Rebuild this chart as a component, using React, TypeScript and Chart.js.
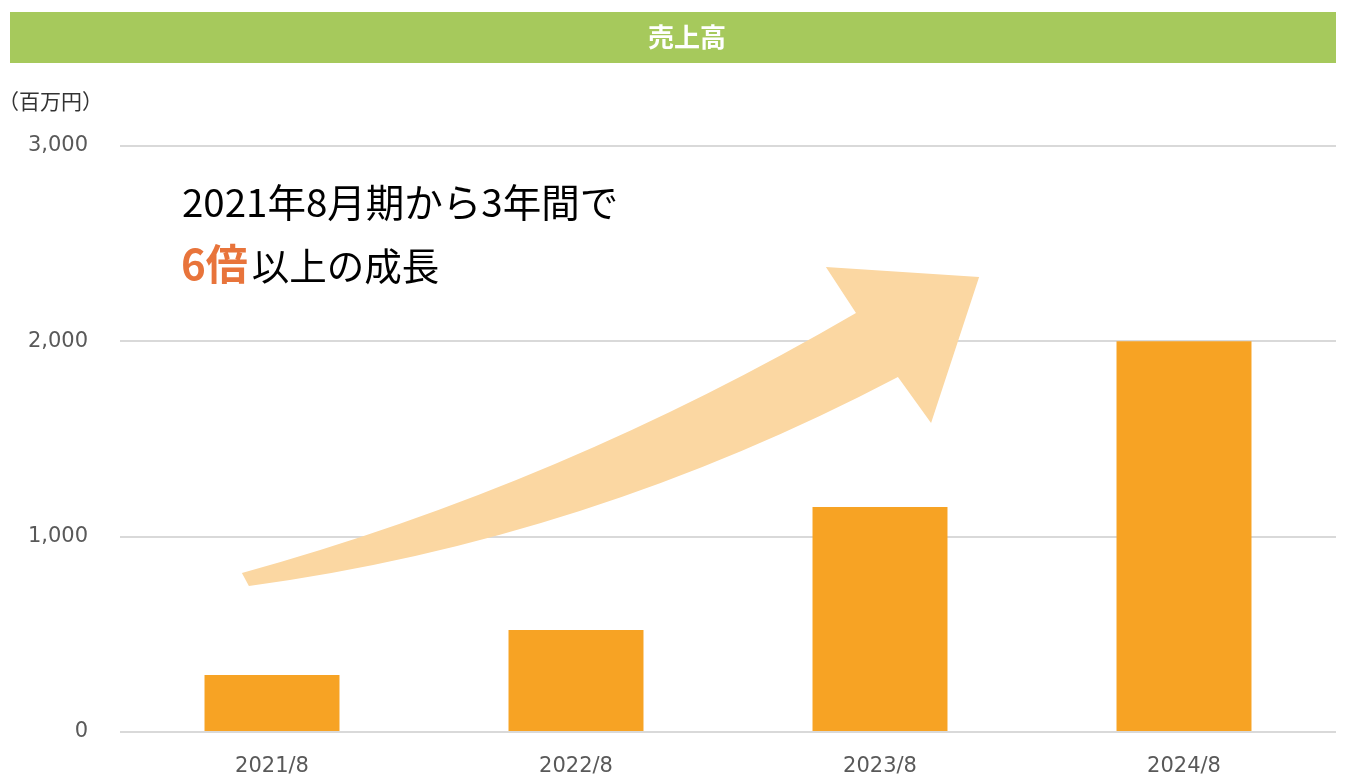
import React, { useEffect, useRef } from "react";
import { Chart, registerables } from "chart.js";

Chart.register(...registerables);

// ---- data ----
const categories = ["2021/8", "2022/8", "2023/8", "2024/8"];
const salesValues = [292, 522, 1152, 2000];
const yMin = 0;
const yMax = 3000;
const yStep = 1000;

// ---- texts ----
const titleText = "売上高";
const unitText = "（百万円）";
const noteLine1 = "2021年8月期から3年間で";
const noteHighlight = "6倍";
const noteRest = "以上の成長";

// ---- decorative arrow, in data space: [category index, value] ----
const arrowTailUpper = [-0.099, 814];
const arrowUpperCtrl = [0.951, 1265];
const arrowHeadInnerUpper = [1.921, 2145];
const arrowHeadLeft = [1.822, 2381];
const arrowHeadTip = [2.326, 2329];
const arrowHeadBottom = [2.168, 1582];
const arrowHeadInnerLower = [2.059, 1817];
const arrowLowerCtrl = [1.039, 983];
const arrowTailLower = [-0.076, 747];

const GREEN = "#A6C95C";
const BAR = "#F7A324";
const ARROW = "#FBD7A2";
const ORANGE = "#E8743B";
const TICK = "#595959";
const GRID = "#D9D9D9";
const CJK = '"Noto Sans CJK JP", "Noto Sans", sans-serif';

const decorPlugin = {
  id: "decor",
  beforeDraw(chart: any) {
    const { ctx, width } = chart;
    ctx.save();
    ctx.fillStyle = "#ffffff";
    ctx.fillRect(0, 0, width, chart.height);
    // title bar
    ctx.fillStyle = GREEN;
    ctx.fillRect(10, 12, 1326, 51);
    ctx.fillStyle = "#ffffff";
    ctx.font = `bold 26px ${CJK}`;
    ctx.textAlign = "center";
    ctx.textBaseline = "middle";
    ctx.fillText(titleText, 687, 37);
    // unit
    ctx.fillStyle = "#333333";
    ctx.font = `21px ${CJK}`;
    ctx.textAlign = "left";
    ctx.fillText(unitText, -2, 101);
    ctx.restore();
  },
  afterDatasetsDraw(chart: any) {
    const { ctx } = chart;
    const xs = chart.scales.x;
    const ys = chart.scales.y;
    const p = (pt: number[]) => [xs.getPixelForValue(pt[0]), ys.getPixelForValue(pt[1])];
    const a = p(arrowTailUpper);
    const b = p(arrowUpperCtrl);
    const c = p(arrowHeadInnerUpper);
    const d = p(arrowHeadLeft);
    const e = p(arrowHeadTip);
    const f = p(arrowHeadBottom);
    const g = p(arrowHeadInnerLower);
    const h = p(arrowLowerCtrl);
    const i = p(arrowTailLower);
    ctx.save();
    ctx.fillStyle = ARROW;
    ctx.beginPath();
    ctx.moveTo(a[0], a[1]);
    ctx.quadraticCurveTo(b[0], b[1], c[0], c[1]);
    ctx.lineTo(d[0], d[1]);
    ctx.lineTo(e[0], e[1]);
    ctx.lineTo(f[0], f[1]);
    ctx.lineTo(g[0], g[1]);
    ctx.quadraticCurveTo(h[0], h[1], i[0], i[1]);
    ctx.closePath();
    ctx.fill();

    // annotation text
    ctx.textAlign = "left";
    ctx.textBaseline = "alphabetic";
    ctx.fillStyle = "#000000";
    ctx.font = `38.5px ${CJK}`;
    ctx.fillText(noteLine1, 182, 217);
    ctx.fillStyle = ORANGE;
    ctx.font = `bold 42px ${CJK}`;
    ctx.fillText(noteHighlight, 181, 280);
    const w = ctx.measureText(noteHighlight).width;
    ctx.fillStyle = "#000000";
    ctx.font = `37.5px ${CJK}`;
    ctx.fillText(noteRest, 181 + w + 4, 280);
    ctx.restore();
  },
};

export default function App() {
  const ref = useRef<HTMLCanvasElement | null>(null);
  useEffect(() => {
    if (!ref.current) return;
    const chart = new Chart(ref.current, {
      type: "bar",
      data: {
        labels: categories,
        datasets: [
          {
            data: salesValues,
            backgroundColor: BAR,
            borderWidth: 0,
            barPercentage: 0.444,
            categoryPercentage: 1,
          },
        ],
      },
      options: {
        responsive: false,
        animation: false,
        layout: { padding: { left: 0, right: 10, top: 146, bottom: 0 } },
        plugins: {
          legend: { display: false },
          tooltip: { enabled: false },
          title: { display: false },
        },
        scales: {
          x: {
            grid: { display: false, drawTicks: false },
            border: { display: false },
            ticks: {
              color: TICK,
              font: { family: "DejaVu Sans", size: 21 },
              padding: 22,
            },
            afterFit: (s: any) => {
              s.height = 42;
            },
          },
          y: {
            min: yMin,
            max: yMax,
            ticks: {
              stepSize: yStep,
              color: TICK,
              font: { family: "DejaVu Sans", size: 21 },
              padding: 32,
              callback: (v: any) => Number(v).toLocaleString("en-US"),
            },
            grid: { color: GRID, lineWidth: 2, drawTicks: false },
            border: { display: false },
            afterFit: (s: any) => {
              s.width = 120;
              s.paddingTop = 0;
              s.paddingBottom = 0;
            },
          },
        },
      },
      plugins: [decorPlugin],
    });
    return () => chart.destroy();
  }, []);
  return (
    <div style={{ position: "fixed", left: 0, top: 0, width: 1346, height: 774 }}>
      <canvas ref={ref} width={1346} height={774} style={{ display: "block" }} />
    </div>
  );
}
